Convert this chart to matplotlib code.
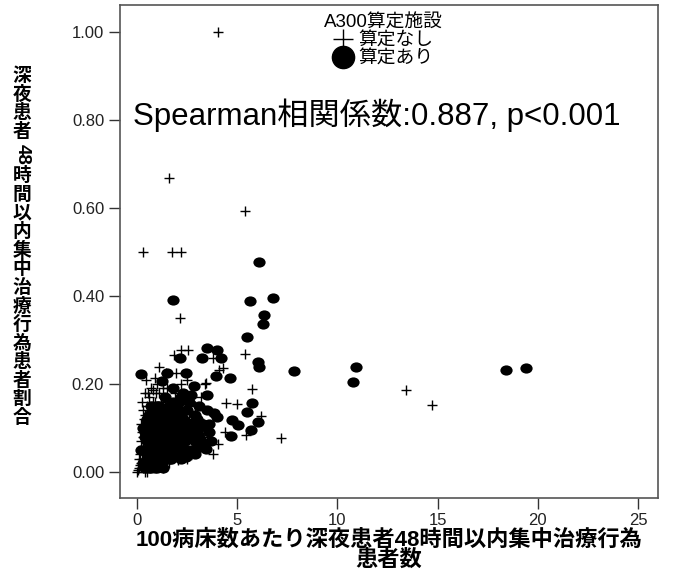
import matplotlib
matplotlib.use('Agg')
import matplotlib.pyplot as plt
from matplotlib.lines import Line2D
from matplotlib.path import Path
from matplotlib.transforms import Affine2D

plt.rcParams['font.family'] = ['Liberation Sans', 'Noto Sans CJK JP', 'DejaVu Sans']

# ---------------------------------------------------------------------------
# Data (x: per-100-bed count, y: share)
# ---------------------------------------------------------------------------
# 算定なし (crosses)
none_x = [4.05, 1.6, 5.4, 0.3, 1.73, 2.18, 2.17, 5.37, 13.4, 14.7, 7.2,
          1.85, 2.2, 2.57, 3.8, 4.1, 4.3, 1.1, 1.47, 0.9, 1.97, 3.42, 5.72,
          0.78, 0.95, 4.45, 4.97, 6.2, 5.42, 4.37, 4.05, 3.8, 2.03, 1.35, 0.0,
          0.1, 0.2, 0.15, 0.3, 0.25, 0.35, 0.3, 0.5, 0.6, 0.45, 0.55, 0.7,
          0.65, 0.8, 0.85, 0.95, 1.0, 1.05, 1.15, 1.25, 1.35, 1.3, 1.45, 1.55,
          1.6, 1.7, 1.75, 1.85, 1.9, 2.0, 2.05, 2.15, 2.25, 2.35, 2.45, 2.6,
          2.7, 2.8, 3.0, 3.1, 0.4, 0.7, 0.9, 1.2, 0.2, 0.1, 0.4, 0.6, 0.75,
          1.1, 1.5, 1.9, 2.2, 2.7, 3.3, 3.6, 0.5, 1.4, 2.9, 4.0, 3.2, 3.4,
          2.5, 1.9,
          0.05, 0.15, 0.25, 0.2, 0.3, 0.2, 0.35, 0.4, 0.25, 0.45, 0.6, 0.7,
          0.9, 1.0, 1.2, 1.3, 1.5, 1.6, 1.8, 2.1, 2.3, 2.5, 0.5, 0.3, 0.8,
          0.55, 1.0, 1.3, 0.45]
none_y = [1.00, 0.667, 0.592, 0.50, 0.50, 0.50, 0.349, 0.268, 0.187, 0.152, 0.077,
          0.266, 0.277, 0.277, 0.258, 0.232, 0.236, 0.239, 0.224, 0.213, 0.226, 0.202, 0.188,
          0.186, 0.179, 0.157, 0.154, 0.128, 0.084, 0.092, 0.063, 0.042, 0.027, 0.012, 0.0,
          0.01, 0.02, 0.04, 0.06, 0.09, 0.12, 0.14, 0.15, 0.17, 0.03, 0.06, 0.04,
          0.09, 0.02, 0.07, 0.12, 0.05, 0.09, 0.03, 0.13, 0.08, 0.01, 0.11, 0.06,
          0.02, 0.14, 0.09, 0.04, 0.11, 0.07, 0.03, 0.10, 0.05, 0.14, 0.08, 0.12,
          0.04, 0.09, 0.06, 0.12, 0.18, 0.19, 0.16, 0.16, 0.07, 0.03, 0.0, 0.02, 0.13,
          0.18, 0.19, 0.18, 0.20, 0.18, 0.08, 0.09, 0.09, 0.15, 0.15, 0.13, 0.17, 0.20,
          0.21, 0.06,
          0.005, 0.015, 0.03, 0.05, 0.08, 0.11, 0.10, 0.13, 0.16, 0.05, 0.04, 0.08,
          0.05, 0.11, 0.09, 0.05, 0.02, 0.12, 0.08, 0.06, 0.09, 0.03, 0.0, 0.01, 0.16,
          0.18, 0.20, 0.19, 0.21]

# 算定あり (dots)
with_x = [6.1, 1.8, 5.66, 6.8, 6.35, 6.27, 5.5, 6.05, 6.08, 7.85, 10.95, 10.8,
          18.4, 19.4, 0.22, 3.47, 4.0, 2.13, 3.27, 4.18, 2.47, 3.95, 4.63, 1.5,
          1.25, 1.8, 2.85, 2.7, 3.47, 2.22, 5.75, 5.5, 3.85, 3.97, 6.05, 4.73,
          5.05, 5.7, 3.45, 3.6, 4.7, 3.13, 3.45, 2.47,
          0.3, 0.5, 0.6, 0.8, 0.9, 1.0, 1.1, 1.2, 1.3, 1.4, 1.5, 1.6, 1.7, 1.8,
          1.9, 2.0, 2.1, 2.2, 2.3, 2.4, 2.5, 2.6, 2.7, 2.8, 2.9, 3.0, 3.1, 3.2,
          0.4, 0.7, 0.5, 1.0, 1.4, 1.8, 2.3, 2.6, 1.2, 1.6, 2.0, 0.9, 0.2, 0.3,
          0.6, 1.1, 2.5, 3.3, 3.5, 2.2, 1.5, 0.8,
          0.4, 0.7, 1.0, 1.3,
          0.5, 0.8, 1.1, 1.4, 1.7, 2.2,
          0.4, 0.7, 1.0, 1.3, 1.6, 1.9, 2.3, 2.7,
          0.5, 0.8, 1.1, 1.4, 1.7, 2.0, 2.4, 2.9,
          0.4, 0.7, 1.0, 1.3, 1.6, 1.9, 2.2, 2.6,
          0.5, 0.8, 1.1, 1.4, 1.7, 2.0, 2.4, 2.8,
          0.6, 0.9, 1.2, 1.5, 1.8, 2.1,
          0.7, 1.1, 1.6, 2.0,
          2.9, 3.1, 3.3, 3.6, 3.7, 2.8, 3.0]
with_y = [0.478, 0.391, 0.388, 0.395, 0.357, 0.336, 0.306, 0.249, 0.238, 0.230, 0.239, 0.205,
          0.232, 0.236, 0.222, 0.281, 0.277, 0.260, 0.260, 0.258, 0.225, 0.218, 0.213, 0.225,
          0.207, 0.190, 0.195, 0.176, 0.176, 0.171, 0.156, 0.137, 0.133, 0.126, 0.113, 0.118,
          0.106, 0.095, 0.103, 0.092, 0.083, 0.056, 0.052, 0.035,
          0.02, 0.04, 0.07, 0.05, 0.09, 0.03, 0.12, 0.07, 0.10, 0.05, 0.14, 0.08, 0.11, 0.06,
          0.13, 0.09, 0.16, 0.07, 0.12, 0.10, 0.14, 0.08, 0.11, 0.05, 0.13, 0.09, 0.15, 0.07,
          0.08, 0.11, 0.12, 0.15, 0.17, 0.16, 0.18, 0.16, 0.02, 0.03, 0.04, 0.01, 0.05, 0.10,
          0.01, 0.06, 0.05, 0.11, 0.14, 0.13, 0.10, 0.14,
          0.01, 0.01, 0.01, 0.01,
          0.03, 0.03, 0.03, 0.03, 0.03, 0.03,
          0.05, 0.05, 0.05, 0.05, 0.05, 0.05, 0.05, 0.05,
          0.07, 0.07, 0.07, 0.07, 0.07, 0.07, 0.07, 0.07,
          0.09, 0.09, 0.09, 0.09, 0.09, 0.09, 0.09, 0.09,
          0.11, 0.11, 0.11, 0.11, 0.11, 0.11, 0.11, 0.11,
          0.13, 0.13, 0.13, 0.13, 0.13, 0.13,
          0.15, 0.15, 0.15, 0.15,
          0.04, 0.08, 0.06, 0.11, 0.07, 0.10, 0.12]

X_TICKS = [0, 5, 10, 15, 20, 25]
Y_TICKS = [0.0, 0.2, 0.4, 0.6, 0.8, 1.0]

LEGEND_TITLE = 'A300算定施設'
LABEL_NONE = '算定なし'
LABEL_WITH = '算定あり'
STAT_TEXT = 'Spearman相関係数:0.887, p<0.001'
XLABEL = '100病床数あたり深夜患者48時間以内集中治療行為\n患者数'
YLABEL_CELLS = ['深', '夜', '患', '者', '48', '時', '間', '以', '内', '集',
                '中', '治', '療', '行', '為', '患', '者', '割', '合']

# slightly wide ellipse, as in the SPSS output
ellipse = Path.unit_circle().transformed(Affine2D().scale(1.2, 1.0))

fig = plt.figure(figsize=(6.73, 5.76), dpi=100)
ax = fig.add_axes([0.1776, 0.1354, 0.8002, 0.8559])

ax.scatter(with_x, with_y, marker=ellipse, s=78, color='black', linewidths=0, zorder=2)
ax.scatter(none_x, none_y, marker='+', s=48, color='black', linewidths=1.0, zorder=3)

ax.set_xlim(-0.87, 26.0)
ax.set_ylim(-0.059, 1.061)
ax.set_xticks(X_TICKS)
ax.set_yticks(Y_TICKS)
ax.set_yticklabels([f'{v:.2f}' for v in Y_TICKS])
ax.tick_params(direction='out', length=8, width=1.0, color='#333333',
               labelsize=12, labelcolor='#222222', pad=3)
for side in ['left', 'bottom', 'right', 'top']:
    ax.spines[side].set_color('#555555')
    ax.spines[side].set_linewidth(1.2)

# legend with big markers, no frame
handles = [Line2D([], [], marker='+', linestyle='none', color='black',
                  markersize=14, markeredgewidth=1.0),
           Line2D([], [], marker='o', linestyle='none', color='black',
                  markersize=16)]
leg = ax.legend(handles, [LABEL_NONE, LABEL_WITH], title=LEGEND_TITLE,
                loc='upper center', bbox_to_anchor=(0.49, 1.005), frameon=False,
                fontsize=13.5, title_fontsize=13.5, labelspacing=0.05,
                handletextpad=0.35, handlelength=1.0, borderpad=0.15)

ax.text(0.025, 0.777, STAT_TEXT, transform=ax.transAxes, fontsize=22.5,
        ha='left', va='center')

fig.text(389 / 673, 1 - 550 / 576, XLABEL, ha='center', va='center',
         fontsize=16, fontweight='bold', linespacing=0.95)

# vertical y label, one cell per character, digits turned sideways
pitch = 18.6
py = 76
for cell in YLABEL_CELLS:
    if cell == '48':
        py += 0.2 * pitch
        fig.text(22 / 673, 1 - py / 576, cell, ha='center', va='center',
                 fontsize=13.5, fontweight='bold', rotation=-90)
        py += 1.2 * pitch
    else:
        fig.text(22 / 673, 1 - py / 576, cell, ha='center', va='center',
                 fontsize=13.5, fontweight='bold')
        py += pitch

fig.savefig('out.png', dpi=100)
